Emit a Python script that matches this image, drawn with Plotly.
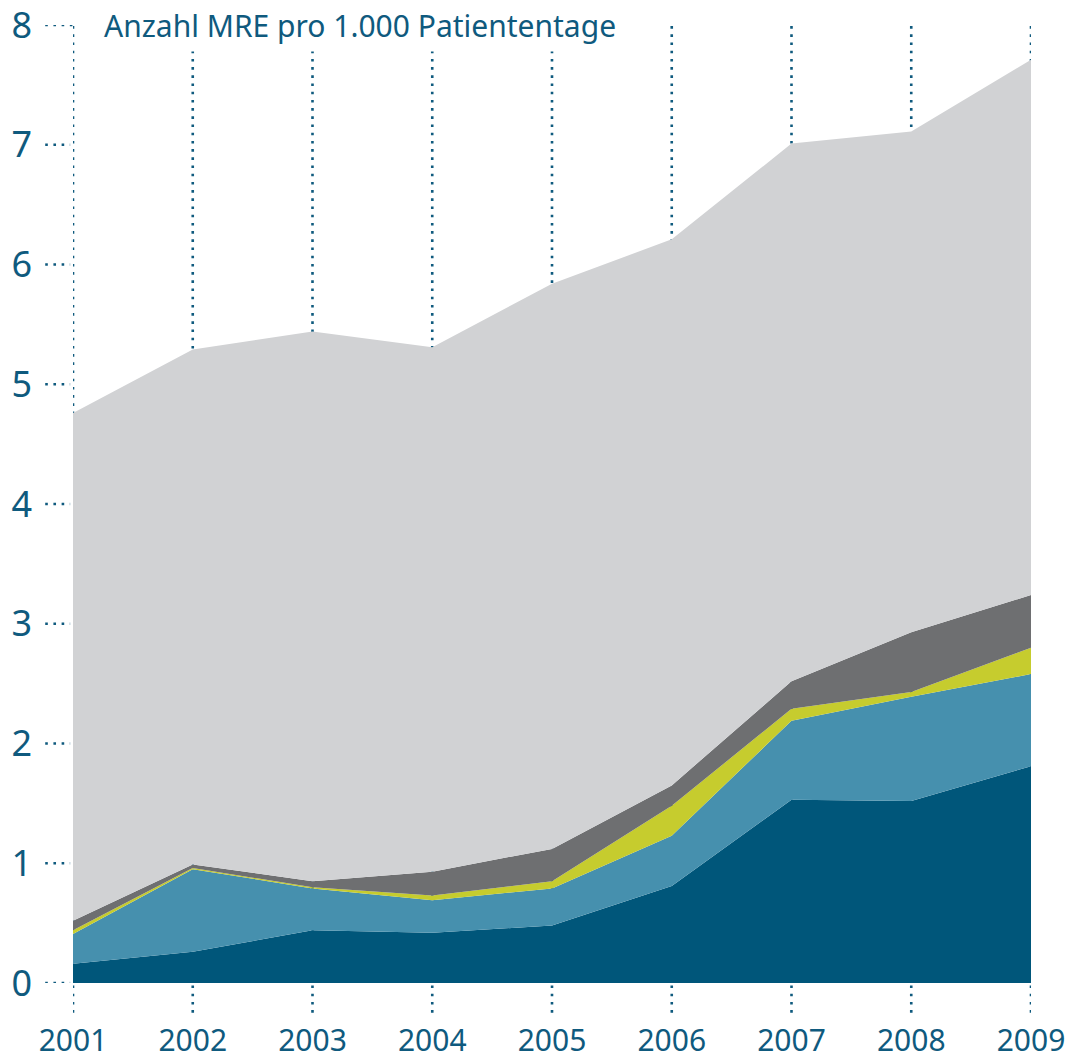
import plotly.graph_objects as go

years = [2001, 2002, 2003, 2004, 2005, 2006, 2007, 2008, 2009]
year_labels = [str(y) for y in years]

# layer values (stacked bottom to top)
layer_darkblue = [0.16, 0.26, 0.44, 0.42, 0.48, 0.81, 1.53, 1.52, 1.81]
layer_lightblue = [0.25, 0.69, 0.35, 0.27, 0.31, 0.42, 0.66, 0.87, 0.77]
layer_yellow = [0.03, 0.01, 0.01, 0.04, 0.06, 0.25, 0.10, 0.04, 0.22]
layer_darkgrey = [0.08, 0.03, 0.05, 0.20, 0.27, 0.17, 0.23, 0.50, 0.44]
layer_lightgrey = [4.24, 4.30, 4.59, 4.38, 4.72, 4.56, 4.49, 4.18, 4.47]

y_ticks = [0, 1, 2, 3, 4, 5, 6, 7, 8]
title_text = "Anzahl MRE pro 1.000 Patiententage"

TEXT = "#0f5a7e"
layers = [
    (layer_darkblue, "#00567a"),
    (layer_lightblue, "#4690ae"),
    (layer_yellow, "#c6cc2e"),
    (layer_darkgrey, "#6e6f71"),
    (layer_lightgrey, "#d1d2d4"),
]

fig = go.Figure()
for vals, col in layers:
    fig.add_trace(go.Scatter(
        x=years, y=vals, stackgroup="one", mode="lines",
        line=dict(width=0, color=col), fillcolor=col,
        hoverinfo="skip", showlegend=False,
    ))

DOT = dict(color=TEXT, width=2.6, dash="2.6px,5.6px")
shapes = []
# vertical dotted gridlines
for yr in years:
    shapes.append(dict(type="line", xref="x", yref="paper", x0=yr, x1=yr,
                       y0=-0.031, y1=1.0, layer="below", line=DOT))
# horizontal dotted tick marks
for t in y_ticks:
    shapes.append(dict(type="line", xref="paper", yref="y", x0=-0.029,
                       x1=(-0.003 if t < max(y_ticks) else 0.0), y0=t, y1=t,
                       layer="below", line=DOT))

fig.update_layout(
    width=1067, height=1051,
    margin=dict(l=65, r=44, t=17, b=76, autoexpand=False),
    paper_bgcolor="white", plot_bgcolor="rgba(0,0,0,0)",
    font=dict(family="Noto Sans", color=TEXT),
    shapes=shapes,
    annotations=[dict(
        text=title_text, xref="paper", yref="paper", x=0.026, y=1.0,
        xanchor="left", yanchor="middle", showarrow=False,
        font=dict(size=30, color=TEXT, family="Noto Sans"),
        bgcolor="white", borderpad=5,
    )],
)
fig.update_xaxes(range=[2001, 2009], tickvals=years, ticktext=year_labels,
                 showgrid=False, zeroline=False, showline=False, ticks="",
                 automargin=False, ticklabeloverflow="allow",
                 ticklabelstandoff=37, tickfont=dict(size=30, color=TEXT))
fig.update_yaxes(range=[0, 8], tickvals=y_ticks, showgrid=False,
                 zeroline=False, showline=False, ticks="",
                 automargin=False, ticklabeloverflow="allow",
                 ticklabelstandoff=40, tickfont=dict(size=36, color=TEXT))

fig.write_html("out.html")
